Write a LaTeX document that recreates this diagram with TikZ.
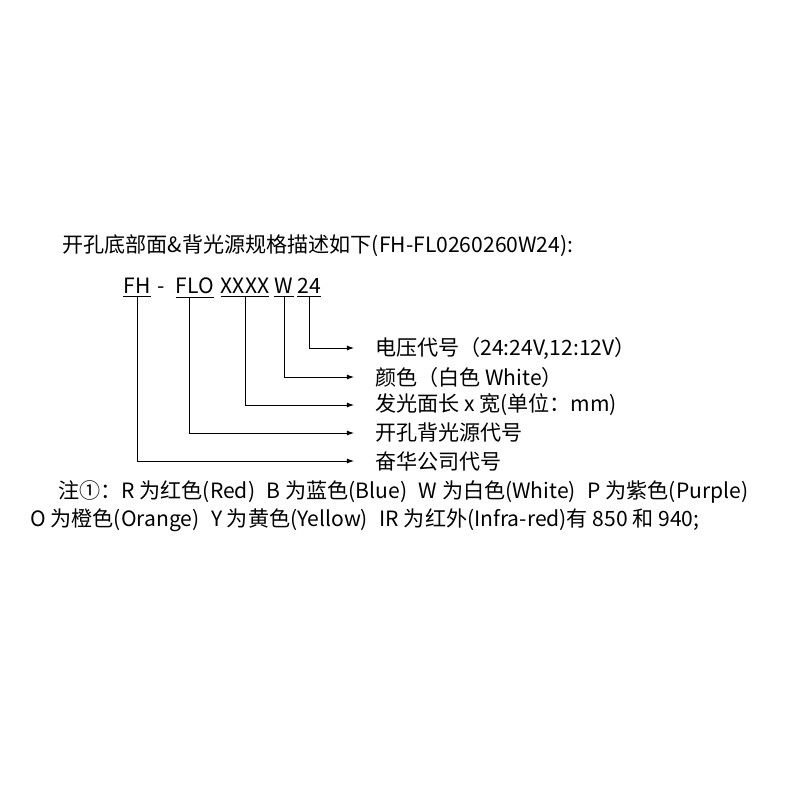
\documentclass[tikz,border=0pt]{standalone}
\usepackage{fontspec}
\setmainfont{Noto Sans CJK SC}
\usetikzlibrary{arrows.meta}
\tikzset{
  txt/.style={font=\fontsize{15pt}{18pt}\selectfont},
  code/.style={txt,anchor=base,inner sep=0pt},
  desc/.style={txt,anchor=west,inner ysep=0pt,inner xsep=0.52cm},
  lead/.style={line width=0.6pt,-{Latex[length=5pt,width=3.5pt]}}
}
\begin{document}
\begin{tikzpicture}[x=0.025cm,y=-0.025cm]
  \useasboundingbox (0,0) rectangle (800,800);
  \node [txt,anchor=base west,inner sep=0pt] (title) at (62,252)
    {开孔底部面\&背光源规格描述如下(FH-FL0260260W24):};
  \node [code] (fh) at (137,293) {FH};
  \node [code] (dash) at (161,293) {-};
  \node [code] (flo) at (195,293) {FLO};
  \node [code] (xxxx) at (245,293) {XXXX};
  \node [code] (w) at (284,293) {W};
  \node [code] (v24) at (309,293) {24};
  \foreach \n in {fh,flo,xxxx,w,v24}
    \draw [line width=0.6pt]
      ([yshift=-2.5pt]\n.south west) -- ([yshift=-2.5pt]\n.south east);
  \node [desc] (volt) at (354,348) {电压代号（24:24V,12:12V）};
  \node [desc] (colour) at (354,377) {颜色（白色 White）};
  \node [desc] (size) at (354,405) {发光面长 x 宽(单位：mm)};
  \node [desc] (kind) at (354,433) {开孔背光源代号};
  \node [desc] (firm) at (354,461) {奋华公司代号};
  \draw [lead]
    ([yshift=-2.5pt]v24.south)
    |- (volt.west)
  ;
  \draw [lead]
    ([yshift=-2.5pt]w.south)
    |- (colour.west)
  ;
  \draw [lead]
    ([yshift=-2.5pt]xxxx.south)
    |- (size.west)
  ;
  \draw [lead]
    ([xshift=-4pt,yshift=-2.5pt]flo.south)
    |- (kind.west)
  ;
  \draw [lead]
    ([yshift=-2.5pt]fh.south)
    |- (firm.west)
  ;
  \node [txt,anchor=base west,inner sep=0pt] (note1) at (58,498)
    {注①：R 为红色(Red)\hspace{0.55em}B 为蓝色(Blue)\hspace{0.55em}W 为白色(White)\hspace{0.55em}P 为紫色(Purple)};
  \node [txt,anchor=base west,inner sep=0pt] (note2) at (30,526)
    {O 为橙色(Orange)\hspace{0.55em}Y 为黄色(Yellow)\hspace{0.55em}IR 为红外(Infra-red)有 850 和 940;};
\end{tikzpicture}
\end{document}
